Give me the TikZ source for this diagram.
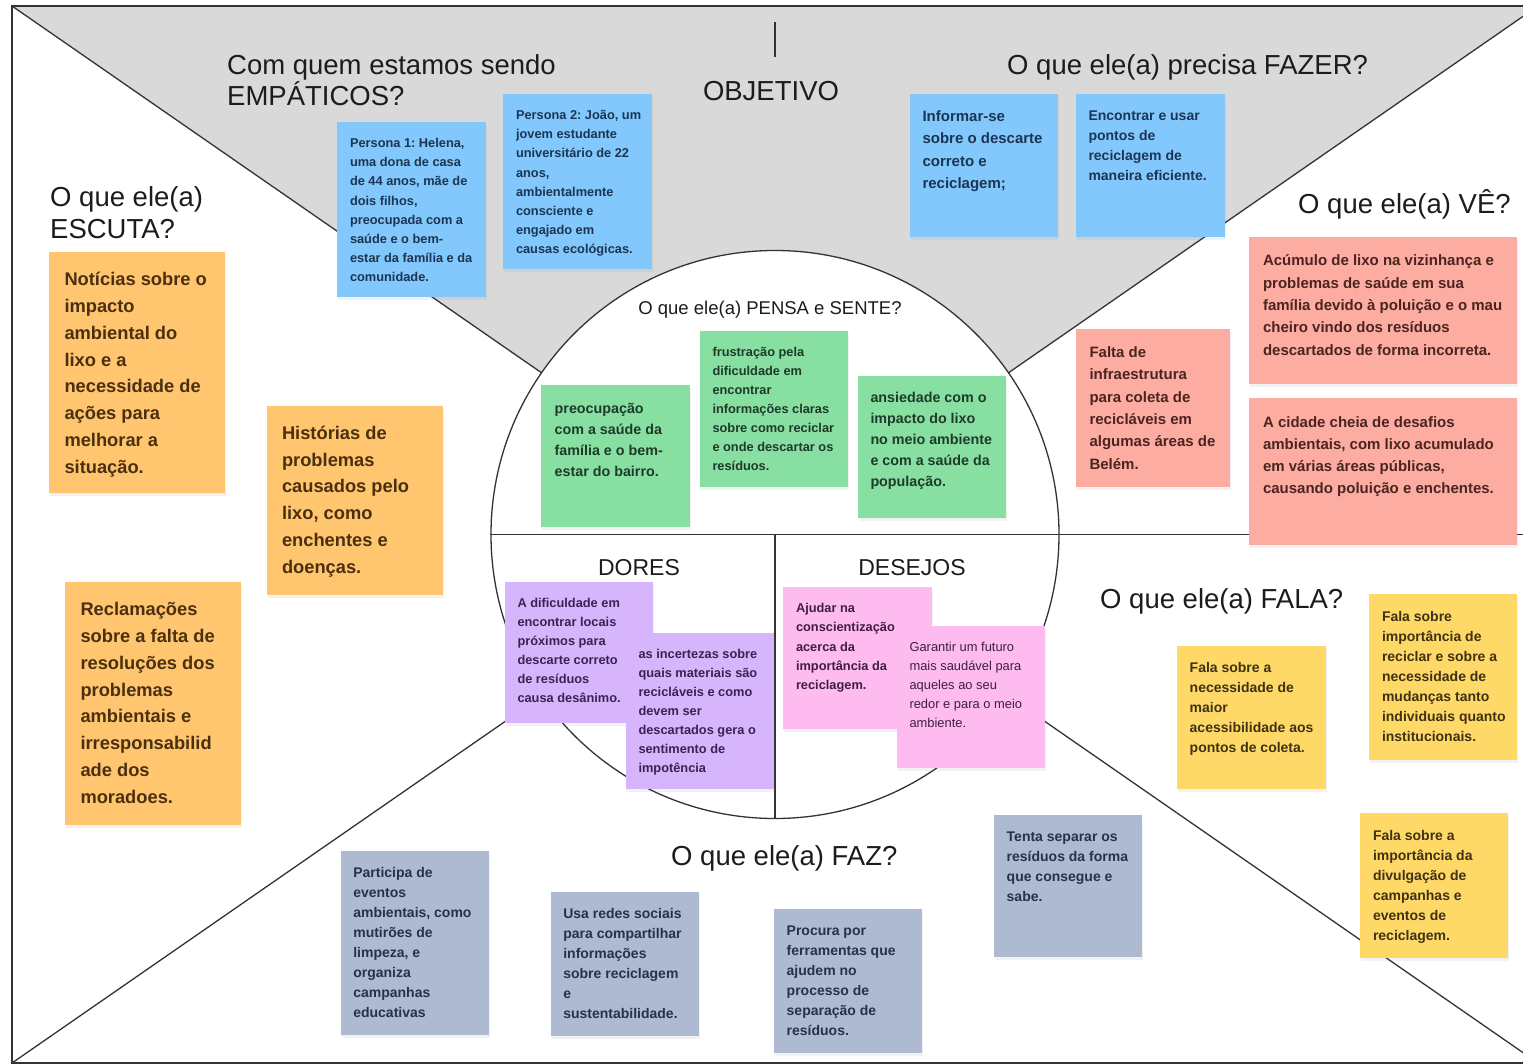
\documentclass[tikz,border=0pt]{standalone}
\usepackage{fontspec}
\setmainfont{Liberation Sans}
\usetikzlibrary{fit,shadows}
\frenchspacing

\definecolor{boardgray}{HTML}{D9D9D9}
\definecolor{lineink}{HTML}{333333}
\definecolor{headink}{HTML}{1C1C1C}
\definecolor{noteblue}{HTML}{82C8FC}
\definecolor{noteblueink}{HTML}{1B3553}
\definecolor{notered}{HTML}{FDACA1}
\definecolor{noteredink}{HTML}{4A2520}
\definecolor{notegreen}{HTML}{88DFA2}
\definecolor{notegreenink}{HTML}{1D3B28}
\definecolor{noteorange}{HTML}{FFC56F}
\definecolor{noteorangeink}{HTML}{4A300F}
\definecolor{notepurple}{HTML}{D7B5FC}
\definecolor{notepurpleink}{HTML}{3A2253}
\definecolor{notepink}{HTML}{FEBBF0}
\definecolor{notepinkink}{HTML}{3E1F3F}
\definecolor{noteyellow}{HTML}{FFD967}
\definecolor{noteyellowink}{HTML}{3F3212}
\definecolor{notegray}{HTML}{ADBAD1}
\definecolor{notegrayink}{HTML}{283246}

\tikzset{
  boardline/.style={draw=lineink, line width=1.3pt},
  notebox/.style={rectangle, inner sep=0pt, draw=none,
    drop shadow={shadow xshift=0.8pt, shadow yshift=-3pt, opacity=0.10}},
  sizeS/.style={font=\bfseries\fontsize{12.8}{19.1}\selectfont},
  sizeSreg/.style={font=\fontsize{12.9}{19.1}\selectfont},
  sizeM/.style={font=\bfseries\fontsize{14}{20}\selectfont},
  sizeMM/.style={font=\bfseries\fontsize{14.3}{21}\selectfont},
  sizeL/.style={font=\bfseries\fontsize{15}{22.3}\selectfont},
  sizeXL/.style={font=\bfseries\fontsize{18.3}{26.75}\selectfont},
  heading/.style={font=\fontsize{27.5}{31}\selectfont, text=headink,
    inner sep=0pt, anchor=base west},
  subheading/.style={text=headink, inner sep=0pt, anchor=base},
}

% sticky note: [padding]{name}{x1}{y1}{x2}{y2}{colour}{text size}{lines}
\newcommand\sticky[9][13]{%
  \node[notebox, fill=#7, fit={(#3,#4) (#5,#6)}] (#2) {};
  \node[anchor=north west, inner sep=0pt, align=left, text=#7ink, #8]
    (#2-text) at ([shift={(#1pt,-#1pt)}]#2.north west) {\rule{0pt}{1em}#9};
}

\begin{document}
\begin{tikzpicture}[x=1pt, y=-1pt]
  \useasboundingbox (0,0) rectangle (1523,1064);
  \fill[white] (0,0) rectangle (1523,1064);
  \clip (0,0) rectangle (1523,1064);

  % board frame corners and centre
  \coordinate (tl) at (12,6);
  \coordinate (tr) at (1538,6);
  \coordinate (bl) at (12,1063);
  \coordinate (br) at (1538,1063);
  \coordinate (mid) at (775,534.5);
  \coordinate (tickA) at (775,22);
  \coordinate (tickB) at (775,57);

  % grey goal sector
  \fill[boardgray] (tl) -- (tr) -- (mid) -- cycle;

  % diagonals towards the centre
  \draw[boardline] (tl) -- (mid);
  \draw[boardline] (tr) -- (mid);
  \draw[boardline] (bl) -- (mid);
  \draw[boardline] (br) -- (mid);

  % outer frame
  \draw[boardline] (tl) rectangle (br);

  % central circle
  \node[circle, boardline, fill=white, minimum size=568pt, inner sep=0pt] (core) at (mid) {};
  \draw[boardline] (core.west) -- (core.west -| tr);
  \draw[boardline] (core.center) -- (core.south);
  \draw[boardline] (tickA) -- (tickB);

  % headings
  \node[heading] (h-emp1) at (227,75) {Com quem estamos sendo};
  \node[heading] (h-emp2) at (227,106) {EMPÁTICOS?};
  \node[heading, anchor=base] (h-obj) at (771,101) {OBJETIVO};
  \node[heading] (h-fazer) at (1007,75) {O que ele(a) precisa FAZER?};
  \node[heading] (h-esc1) at (50,207) {O que ele(a)};
  \node[heading] (h-esc2) at (50,239) {ESCUTA?};
  \node[heading] (h-ve) at (1298,214) {O que ele(a) VÊ?};
  \node[heading] (h-fala) at (1100,608) {O que ele(a) FALA?};
  \node[heading] (h-faz) at (671,865) {O que ele(a) FAZ?};
  \node[subheading, font=\fontsize{18.5}{22}\selectfont] (h-pensa) at (770,315) {O que ele(a) PENSA e SENTE?};
  \node[subheading, font=\fontsize{23}{27}\selectfont] (h-dores) at (639,575) {DORES};
  \node[subheading, font=\fontsize{23}{27}\selectfont] (h-desejos) at (912,575) {DESEJOS};

  % empathy: personas
  \sticky{p1}{337}{122}{486}{297}{noteblue}{sizeS}{Persona 1: Helena,\\uma dona de casa\\de 44 anos, mãe de\\dois filhos,\\preocupada com a\\saúde e o bem-\\estar da família e da\\comunidade.}
  \sticky{p2}{503}{94}{652}{269}{noteblue}{sizeS}{Persona 2: João, um\\jovem estudante\\universitário de 22\\anos,\\ambientalmente\\consciente e\\engajado em\\causas ecológicas.}

  % what they need to do
  \sticky[12.5]{do1}{910}{94}{1058}{237}{noteblue}{sizeL}{Informar-se\\sobre o descarte\\correto e\\reciclagem;}
  \sticky[12.5]{do2}{1076}{94}{1225}{237}{noteblue}{sizeM}{Encontrar e usar\\pontos de\\reciclagem de\\maneira eficiente.}

  % what they see
  \sticky[14]{see1}{1249}{237}{1517}{384}{notered}{sizeL}{Acúmulo de lixo na vizinhança e\\problemas de saúde em sua\\família devido à poluição e o mau\\cheiro vindo dos resíduos\\descartados de forma incorreta.}
  \sticky[14]{see2}{1249}{398}{1517}{545}{notered}{sizeL}{A cidade cheia de desafios\\ambientais, com lixo acumulado\\em várias áreas públicas,\\causando poluição e enchentes.}
  \sticky[13.5]{see3}{1076}{329}{1230}{487}{notered}{sizeL}{Falta de\\infraestrutura\\para coleta de\\recicláveis em\\algumas áreas de\\Belém.}

  % what they think and feel
  \sticky[13.7]{think1}{541}{385}{690}{527}{notegreen}{sizeMM}{preocupação\\com a saúde da\\família e o bem-\\estar do bairro.}
  \sticky[12.5]{think2}{700}{331}{848}{487}{notegreen}{sizeS}{frustração pela\\dificuldade em\\encontrar\\informações claras\\sobre como reciclar\\e onde descartar os\\resíduos.}
  \sticky[12.5]{think3}{858}{376}{1006}{518}{notegreen}{sizeMM}{ansiedade com o\\impacto do lixo\\no meio ambiente\\e com a saúde da\\população.}

  % what they hear
  \sticky[15.5]{hear1}{49}{252}{225}{493}{noteorange}{sizeXL}{Notícias sobre o\\impacto\\ambiental do\\lixo e a\\necessidade de\\ações para\\melhorar a\\situação.}
  \sticky[15]{hear2}{267}{406}{443}{595}{noteorange}{sizeXL}{Histórias de\\problemas\\causados pelo\\lixo, como\\enchentes e\\doenças.}
  \sticky[15.5]{hear3}{65}{582}{241}{825}{noteorange}{sizeXL}{Reclamações\\sobre a falta de\\resoluções dos\\problemas\\ambientais e\\irresponsabilid\\ade dos\\moradoes.}

  % pains
  \sticky[12.5]{pain1}{505}{582}{653}{723}{notepurple}{sizeS}{A dificuldade em\\encontrar locais\\próximos para\\descarte correto\\de resíduos\\causa desânimo.}
  \sticky[12.5]{pain2}{626}{633}{774}{789}{notepurple}{sizeS}{as incertezas sobre\\quais materiais são\\recicláveis e como\\devem ser\\descartados gera o\\sentimento de\\impotência}

  % wishes
  \sticky{wish1}{783}{587}{932}{729}{notepink}{sizeS}{Ajudar na\\conscientização\\acerca da\\importância da\\reciclagem.}
  \sticky[12.5]{wish2}{897}{626}{1045}{768}{notepink}{sizeSreg}{Garantir um futuro\\mais saudável para\\aqueles ao seu\\redor e para o meio\\ambiente.}

  % what they say
  \sticky[12.7]{say1}{1177}{646}{1326}{789}{noteyellow}{sizeM}{Fala sobre a\\necessidade de\\maior\\acessibilidade aos\\pontos de coleta.}
  \sticky[13]{say2}{1369}{594}{1517}{760}{noteyellow}{sizeM}{Fala sobre\\importância de\\reciclar e sobre a\\necessidade de\\mudanças tanto\\individuais quanto\\institucionais.}
  \sticky[13]{say3}{1360}{813}{1508}{958}{noteyellow}{sizeM}{Fala sobre a\\importância da\\divulgação de\\campanhas e\\eventos de\\reciclagem.}

  % what they do
  \sticky[12.7]{act1}{994}{815}{1142}{957}{notegray}{sizeM}{Tenta separar os\\resíduos da forma\\que consegue e\\sabe.}
  \sticky[12.3]{act2}{341}{851}{489}{1035}{notegray}{sizeM}{Participa de\\eventos\\ambientais, como\\mutirões de\\limpeza, e\\organiza\\campanhas\\educativas}
  \sticky[12.3]{act3}{551}{892}{699}{1036}{notegray}{sizeM}{Usa redes sociais\\para compartilhar\\informações\\sobre reciclagem\\e\\sustentabilidade.}
  \sticky[12.7]{act4}{774}{909}{922}{1053}{notegray}{sizeM}{Procura por\\ferramentas que\\ajudem no\\processo de\\separação de\\resíduos.}
\end{tikzpicture}
\end{document}
